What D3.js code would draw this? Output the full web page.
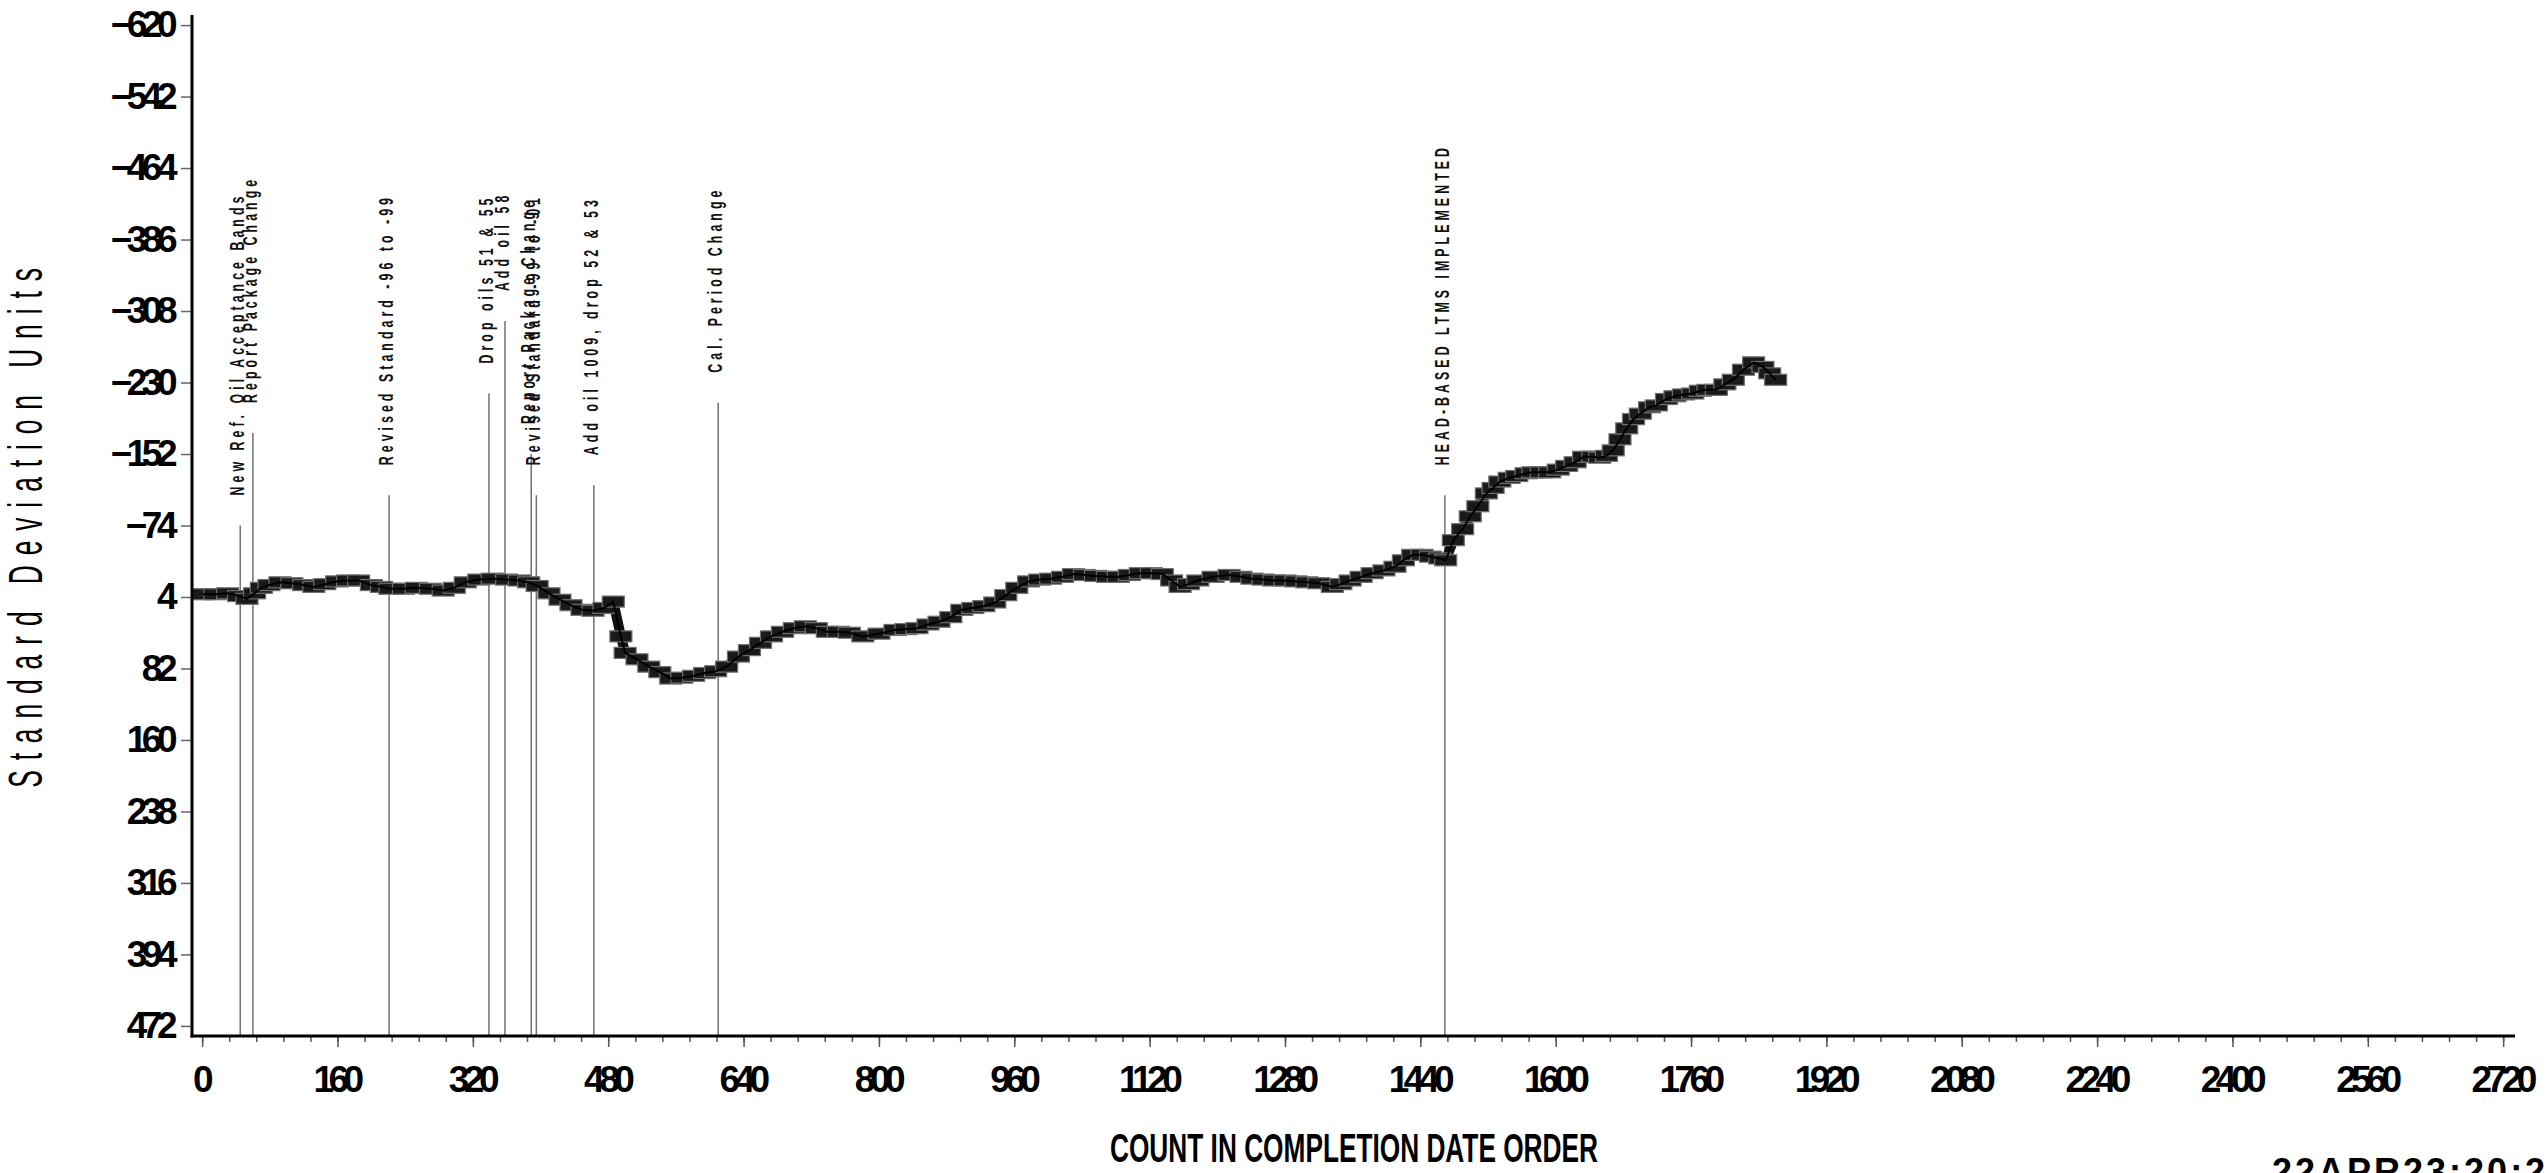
<!DOCTYPE html>
<html>
<head>
<meta charset="utf-8">
<script src="https://cdn.jsdelivr.net/npm/d3@7"></script>
<style>
  body { margin: 0; background: #fff; }
  svg { display: block; font-family: "Liberation Sans", Arial, Helvetica, sans-serif; }
</style>
</head>
<body>
<div id="root"></div>
<script>
// test count (completion order) and CUSUM value
const counts = [1, 15, 30, 43, 53, 62, 70, 79, 92, 106, 120, 132, 145, 159, 172, 185, 200, 212, 222, 238,
  253, 270, 285, 298, 311, 327, 343, 360, 375, 386, 396, 410, 423, 436, 449, 462, 475, 486, 495, 500,
  514, 528, 541, 554, 567, 581, 594, 607, 620, 634, 647, 660, 673, 686, 700, 713, 726, 739, 752, 765,
  781, 800, 819, 832, 845, 858, 871, 885, 898, 911, 924, 937, 950, 963, 977, 990, 1003, 1017, 1030, 1043,
  1056, 1070, 1083, 1096, 1109, 1122, 1135, 1146, 1156, 1166, 1177, 1195, 1214, 1228, 1241, 1254, 1267, 1280, 1293, 1306,
  1320, 1336, 1346, 1357, 1370, 1383, 1397, 1410, 1420, 1431, 1442, 1452, 1463, 1470, 1479, 1490, 1499, 1508, 1518, 1526,
  1534, 1545, 1554, 1565, 1573, 1583, 1593, 1603, 1613, 1623, 1633, 1644, 1652, 1660, 1668, 1676, 1684, 1692, 1700, 1711,
  1719, 1731, 1741, 1751, 1762, 1771, 1780, 1790, 1800, 1810, 1822, 1834, 1845, 1853, 1860];
const cusum = [1, 1, 0, 3, 6, 0, -6, -9, -12, -11, -9, -7, -10, -13, -14, -14, -9, -7, -5, -5,
  -6, -5, -3, -6, -12, -15, -16, -15, -14, -12, -8, 0, 7, 13, 18, 19, 16, 9, 47, 65,
  72, 80, 86, 93, 92, 90, 87, 85, 80, 69, 62, 54, 47, 42, 38, 36, 38, 42, 42, 43,
  47, 44, 40, 39, 38, 34, 31, 26, 18, 16, 14, 10, 2, -6, -13, -15, -16, -18, -21, -20,
  -19, -18, -18, -20, -22, -22, -21, -14, -7, -10, -14, -18, -20, -18, -16, -15, -14, -14, -13, -12,
  -11, -7, -10, -14, -18, -22, -25, -29, -36, -42, -42, -40, -38, -36, -58, -70, -84, -95, -109, -115,
  -122, -126, -128, -131, -132, -132, -132, -135, -139, -143, -149, -149, -148, -150, -156, -168, -180, -190, -196, -203,
  -205, -212, -215, -217, -218, -221, -222, -222, -228, -233, -244, -252, -247, -240, -233];

// reference events: count, top of the marker line (chart units), label
const eventCounts = [45, 60, 221, 339, 358, 389, 395, 463, 610, 1469];
const eventTops = [-74, -175, -107, -218, -297, -152, -107, -118, -208, -107];
const eventLabels = [
  'New Ref. Oil Acceptance Bands',
  'Report Package Change',
  'Revised Standard -96 to -99',
  'Drop oils 51 & 55',
  'Add oil 58',
  'Report Package Change',
  'Revised Standard -99 to -01',
  'Add oil 1009, drop 52 & 53',
  'Cal. Period Change',
  'HEAD-BASED LTMS IMPLEMENTED'
];

const yTicks = [-620, -542, -464, -386, -308, -230, -152, -74, 4, 82, 160, 238, 316, 394, 472];
const xTicks = [0, 160, 320, 480, 640, 800, 960, 1120, 1280, 1440, 1600, 1760, 1920, 2080, 2240, 2400, 2560, 2720];
const xMinorTicks = d3.range(0, 2721, 32);

const W = 2547;
const H = 1173;

const svg = d3.select('#root')
  .append('svg')
  .attr('width', W)
  .attr('height', H);

svg.append('rect').attr('width', W).attr('height', H).attr('fill', '#fff');

const x = d3.scaleLinear().domain([-12, 2734]).range([192, 2515]);
const y = d3.scaleLinear().domain([-631, 483]).range([15, 1036]);

// event marker lines
svg.append('g')
  .selectAll('line')
  .data(eventCounts)
  .enter()
  .append('line')
  .attr('x1', d => x(d))
  .attr('x2', d => x(d))
  .attr('y1', (d, i) => y(eventTops[i]))
  .attr('y2', y.range()[1])
  .attr('stroke', '#707070')
  .attr('stroke-width', 1.5);

// event labels, rotated, reading upward
svg.append('g')
  .selectAll('g')
  .data(eventCounts)
  .enter()
  .append('g')
  .attr('transform', (d, i) => `translate(${x(d) + 4},${y(eventTops[i]) - 30}) rotate(-90) scale(0.62,1)`)
  .append('text')
  .attr('font-size', 20)
  .attr('font-weight', 'bold')
  .attr('letter-spacing', 6.5)
  .attr('fill', '#111')
  .text((d, i) => eventLabels[i]);

// series: connecting band then box markers
const pts = counts.map((c, i) => [c, cusum[i]]);
const line = d3.line().x(d => x(d[0])).y(d => y(d[1]));

svg.append('path')
  .datum(pts)
  .attr('fill', 'none')
  .attr('stroke', '#111')
  .attr('stroke-width', 10)
  .attr('stroke-linejoin', 'round')
  .attr('d', line);

svg.append('g')
  .selectAll('rect')
  .data(pts)
  .enter()
  .append('rect')
  .attr('x', d => x(d[0]) - 11)
  .attr('y', d => y(d[1]) - 5.5)
  .attr('width', 22)
  .attr('height', 11)
  .attr('fill', '#1a1a1a')
  .attr('stroke', '#707070')
  .attr('stroke-width', 1.2);

svg.append('path')
  .datum(pts)
  .attr('fill', 'none')
  .attr('stroke', '#000')
  .attr('stroke-width', 2)
  .attr('d', line);

// y axis
const yAxis = svg.append('g')
  .attr('transform', 'translate(192,0)')
  .call(d3.axisLeft(y).tickValues(yTicks).tickSize(11).tickPadding(9).tickFormat(d3.format('d')));
yAxis.select('.domain').remove();
yAxis.selectAll('line').attr('stroke', '#666').attr('stroke-width', 1.5);
yAxis.selectAll('text')
  .attr('font-size', 37)
  .attr('font-weight', 'bold')
  .attr('letter-spacing', -5.5)
  .attr('fill', '#000');

// x axis: minor then major ticks
const xMinor = svg.append('g')
  .attr('transform', 'translate(0,1036)')
  .call(d3.axisBottom(x).tickValues(xMinorTicks).tickSize(6).tickFormat(''));
xMinor.select('.domain').remove();
xMinor.selectAll('line').attr('stroke', '#555').attr('stroke-width', 1.5);

const xAxis = svg.append('g')
  .attr('transform', 'translate(0,1036)')
  .call(d3.axisBottom(x).tickValues(xTicks).tickSize(11).tickPadding(19).tickFormat(d3.format('d')));
xAxis.select('.domain').remove();
xAxis.selectAll('line').attr('stroke', '#555').attr('stroke-width', 1.5);
xAxis.selectAll('text')
  .attr('font-size', 37)
  .attr('font-weight', 'bold')
  .attr('letter-spacing', -5.5)
  .attr('dx', -2)
  .attr('fill', '#000');

// axis lines
svg.append('line')
  .attr('x1', 192).attr('x2', 192)
  .attr('y1', y.range()[0]).attr('y2', 1037.5)
  .attr('stroke', '#000').attr('stroke-width', 3);
svg.append('line')
  .attr('x1', 190.5).attr('x2', x.range()[1])
  .attr('y1', 1036).attr('y2', 1036)
  .attr('stroke', '#000').attr('stroke-width', 3);

// titles
svg.append('g')
  .attr('transform', 'translate(42,528) rotate(-90) scale(0.55,1)')
  .append('text')
  .attr('text-anchor', 'middle')
  .attr('font-size', 48)
  .attr('textLength', 945)
  .attr('lengthAdjust', 'spacing')
  .attr('fill', '#000')
  .text('Standard Deviation Units');

svg.append('text')
  .attr('x', 1354)
  .attr('y', 1162)
  .attr('text-anchor', 'middle')
  .attr('font-size', 40)
  .attr('font-weight', 'bold')
  .attr('textLength', 488)
  .attr('lengthAdjust', 'spacingAndGlyphs')
  .attr('fill', '#000')
  .text('COUNT IN COMPLETION DATE ORDER');

svg.append('text')
  .attr('x', 2272)
  .attr('y', 1184)
  .attr('font-size', 36)
  .attr('font-weight', 'bold')
  .attr('letter-spacing', 3)
  .attr('fill', '#000')
  .text('22APR23:20:26');
</script>
</body>
</html>
